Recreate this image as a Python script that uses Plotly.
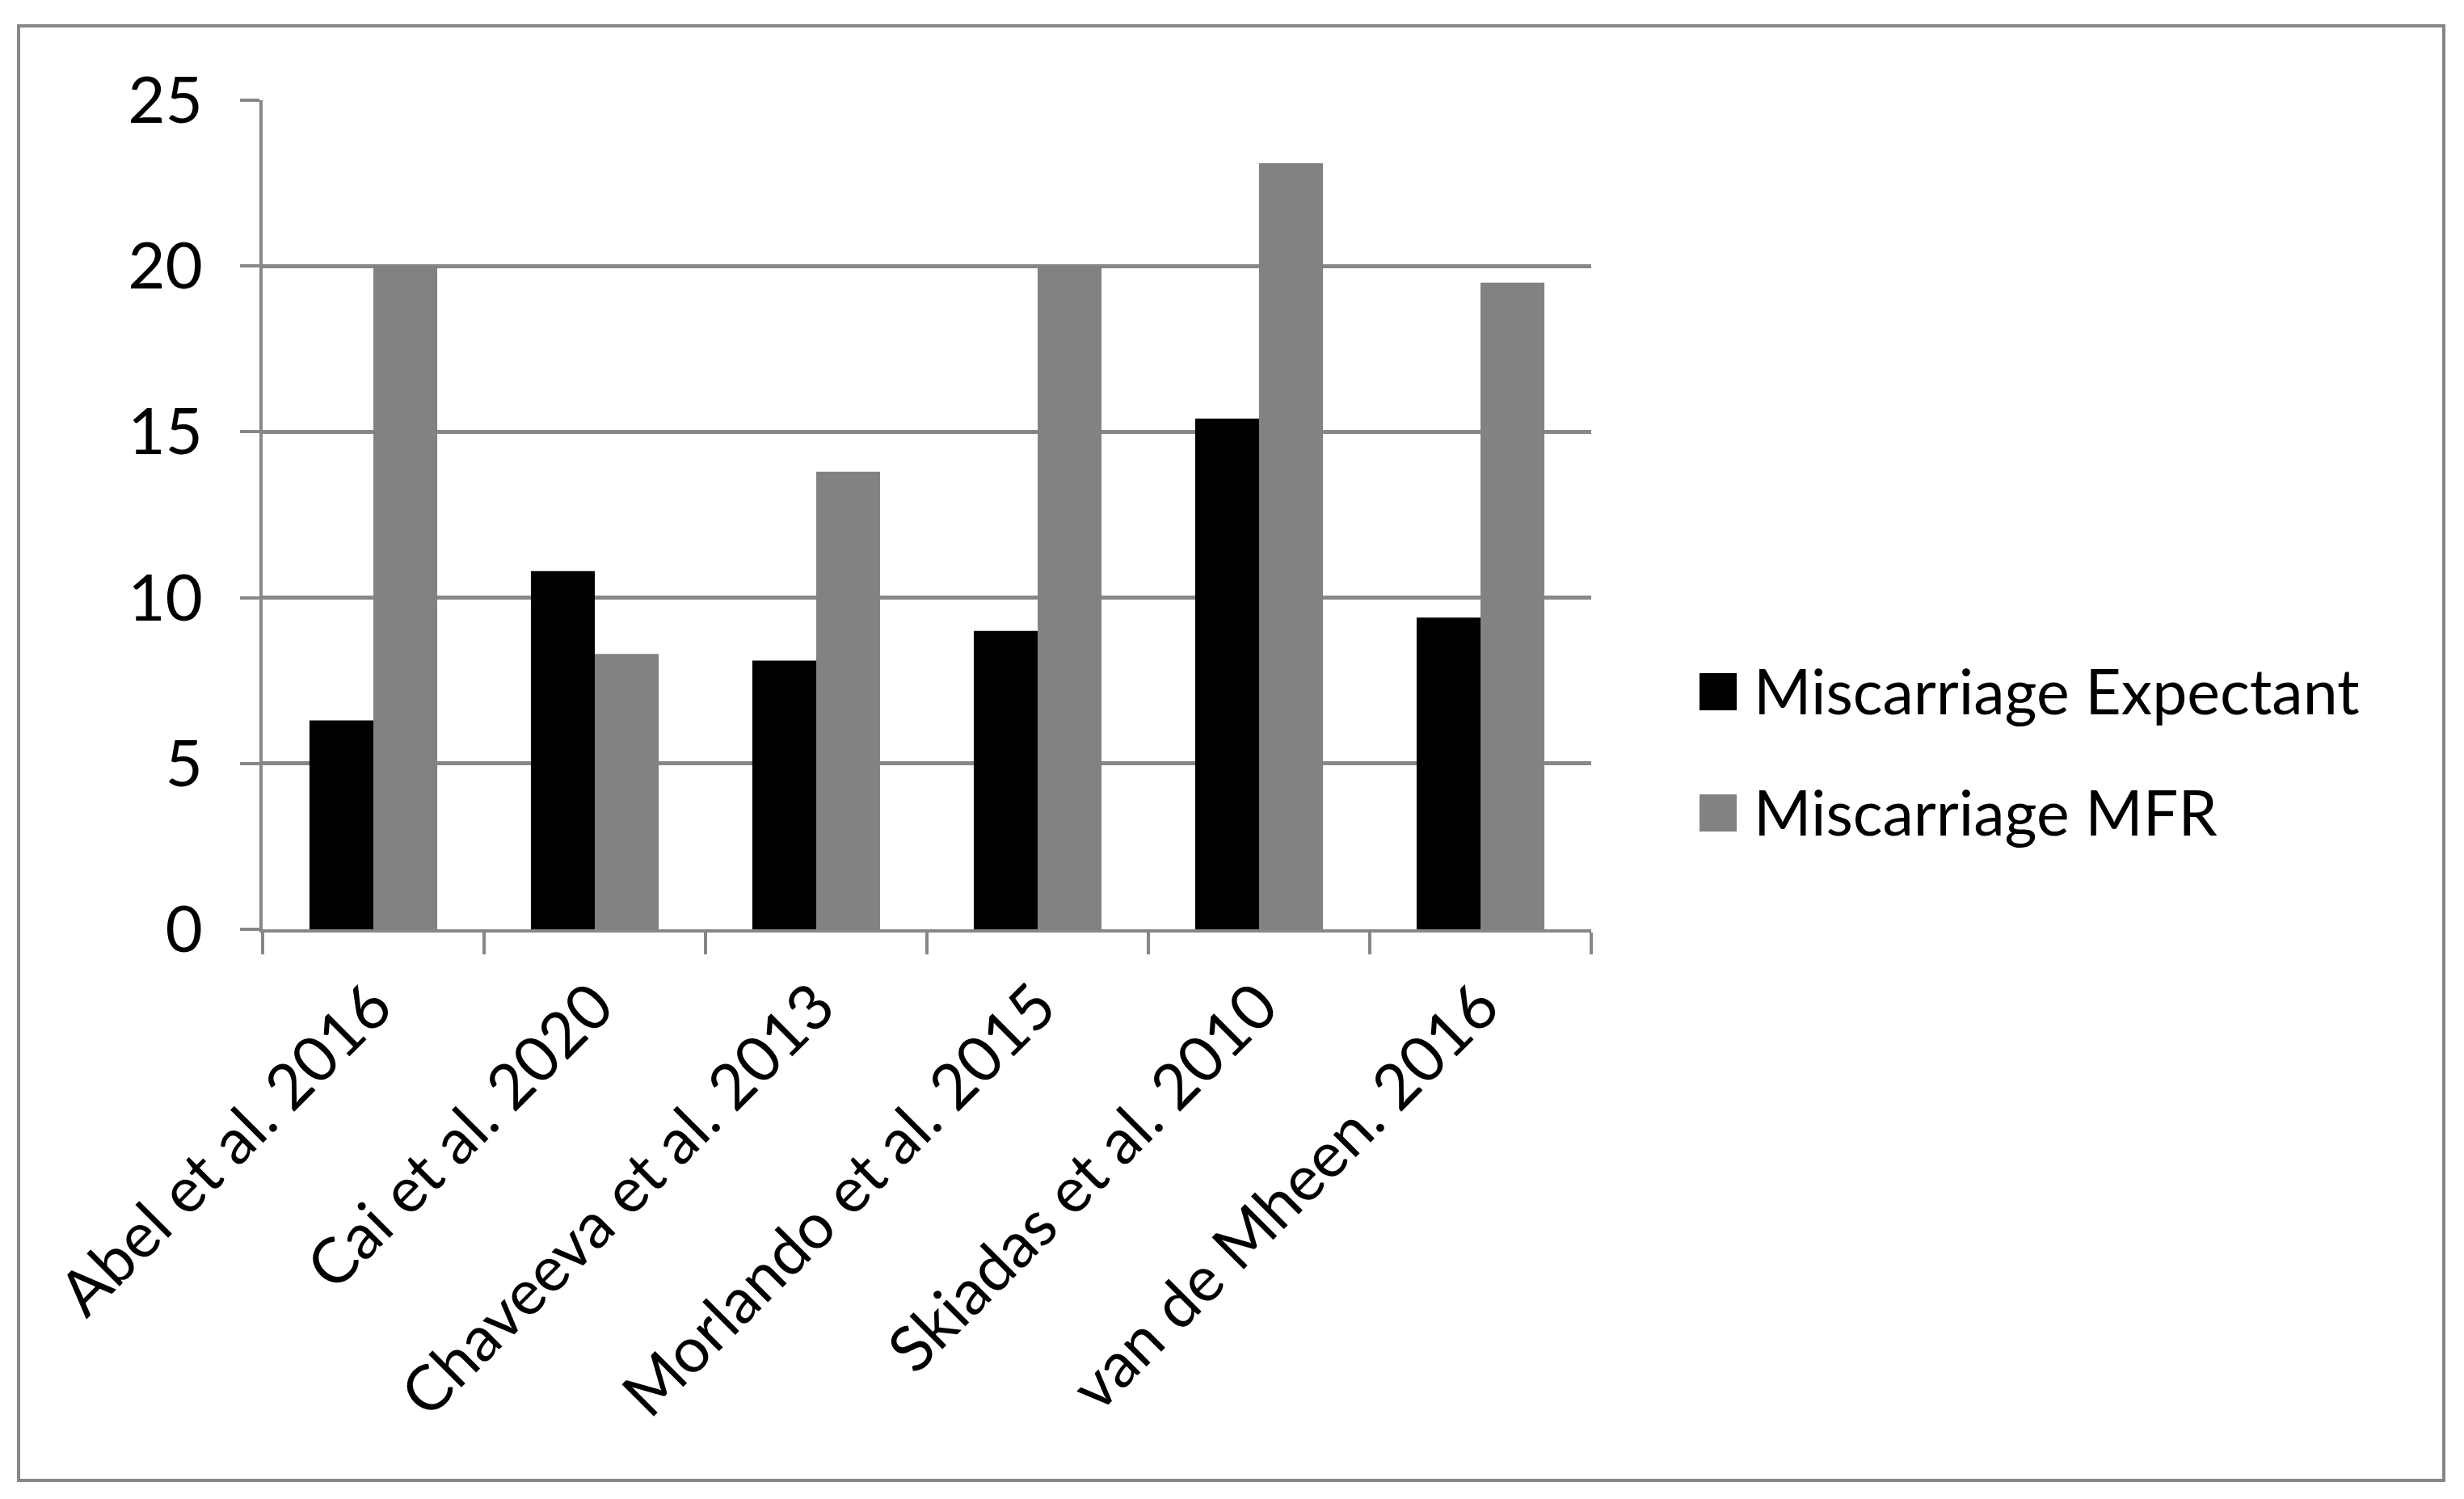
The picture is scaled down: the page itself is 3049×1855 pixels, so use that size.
import plotly.graph_objects as go

studies = ["Abel et al. 2016", "Cai et al. 2020", "Chaveeva et al. 2013",
           "Morlando et al. 2015", "Skiadas et al. 2010", "van de Mheen. 2016"]
expectant = [6.3, 10.8, 8.1, 9.0, 15.4, 9.4]
mfr = [20.0, 8.3, 13.8, 20.0, 23.1, 19.5]

series_names = ["Miscarriage Expectant", "Miscarriage MFR"]
series_colors = ["#000000", "#828282"]

# the page body adds an 8px margin, so work in screen pixels and shift back
OFF = 8
W, H = 3049 - OFF, 1855 - OFF
L, R, T, B = 325 - OFF, 1969 - OFF, 124 - OFF, 1150 - OFF
GRID = "#878787"
FONT = "Lato"


def px_x(p):
    return (p - OFF - L) / (R - L)


def px_y(p):
    return (B - (p - OFF)) / (B - T)


fig = go.Figure()
for name, vals, col in zip(series_names, [expectant, mfr], series_colors):
    fig.add_trace(go.Bar(x=studies, y=vals, name=name,
                         marker=dict(color=col, line=dict(width=0)),
                         showlegend=False))

shapes = [
    # outer chart border
    dict(type="rect", xref="paper", yref="paper",
         x0=px_x(23), x1=px_x(3024), y0=px_y(1832), y1=px_y(32),
         line=dict(color=GRID, width=4), layer="below"),
]
annotations = []

# legend, drawn by hand so the swatches match the original size
legend_rows = [856, 1006]
for name, col, yc in zip(series_names, series_colors, legend_rows):
    shapes.append(dict(type="rect", xref="paper", yref="paper",
                       x0=px_x(2103), x1=px_x(2149),
                       y0=px_y(yc + 23), y1=px_y(yc - 23),
                       fillcolor=col, line=dict(width=0)))
    annotations.append(dict(xref="paper", yref="paper", x=px_x(2168), y=px_y(yc - 2),
                            text=name, showarrow=False, xanchor="left", yanchor="middle",
                            font=dict(family=FONT, size=77, color="black")))

fig.update_layout(
    width=W, height=H,
    template="none",
    paper_bgcolor="white", plot_bgcolor="white",
    margin=dict(l=L, r=W - R, t=T, b=H - B, pad=0),
    barmode="group", bargap=0.423, bargroupgap=0,
    font=dict(family=FONT, size=77, color="black"),
    shapes=shapes,
    annotations=annotations,
    xaxis=dict(
        type="category", tickangle=-45, tickson="boundaries",
        ticks="outside", ticklen=27, tickwidth=4, tickcolor=GRID,
        showline=True, linecolor=GRID, linewidth=4,
        showgrid=False, automargin=False, ticklabelstandoff=14,
        tickfont=dict(family=FONT, size=78, color="black"),
    ),
    yaxis=dict(
        range=[0, 25], dtick=5, tick0=0,
        ticks="outside", ticklen=24, tickwidth=4, tickcolor=GRID,
        showline=True, linecolor=GRID, linewidth=4,
        showgrid=True, gridcolor=GRID, gridwidth=4.5,
        zeroline=False, automargin=False, ticklabelstandoff=30,
        tickfont=dict(family=FONT, size=80, color="black"),
    ),
)

fig.write_html("out.html")
